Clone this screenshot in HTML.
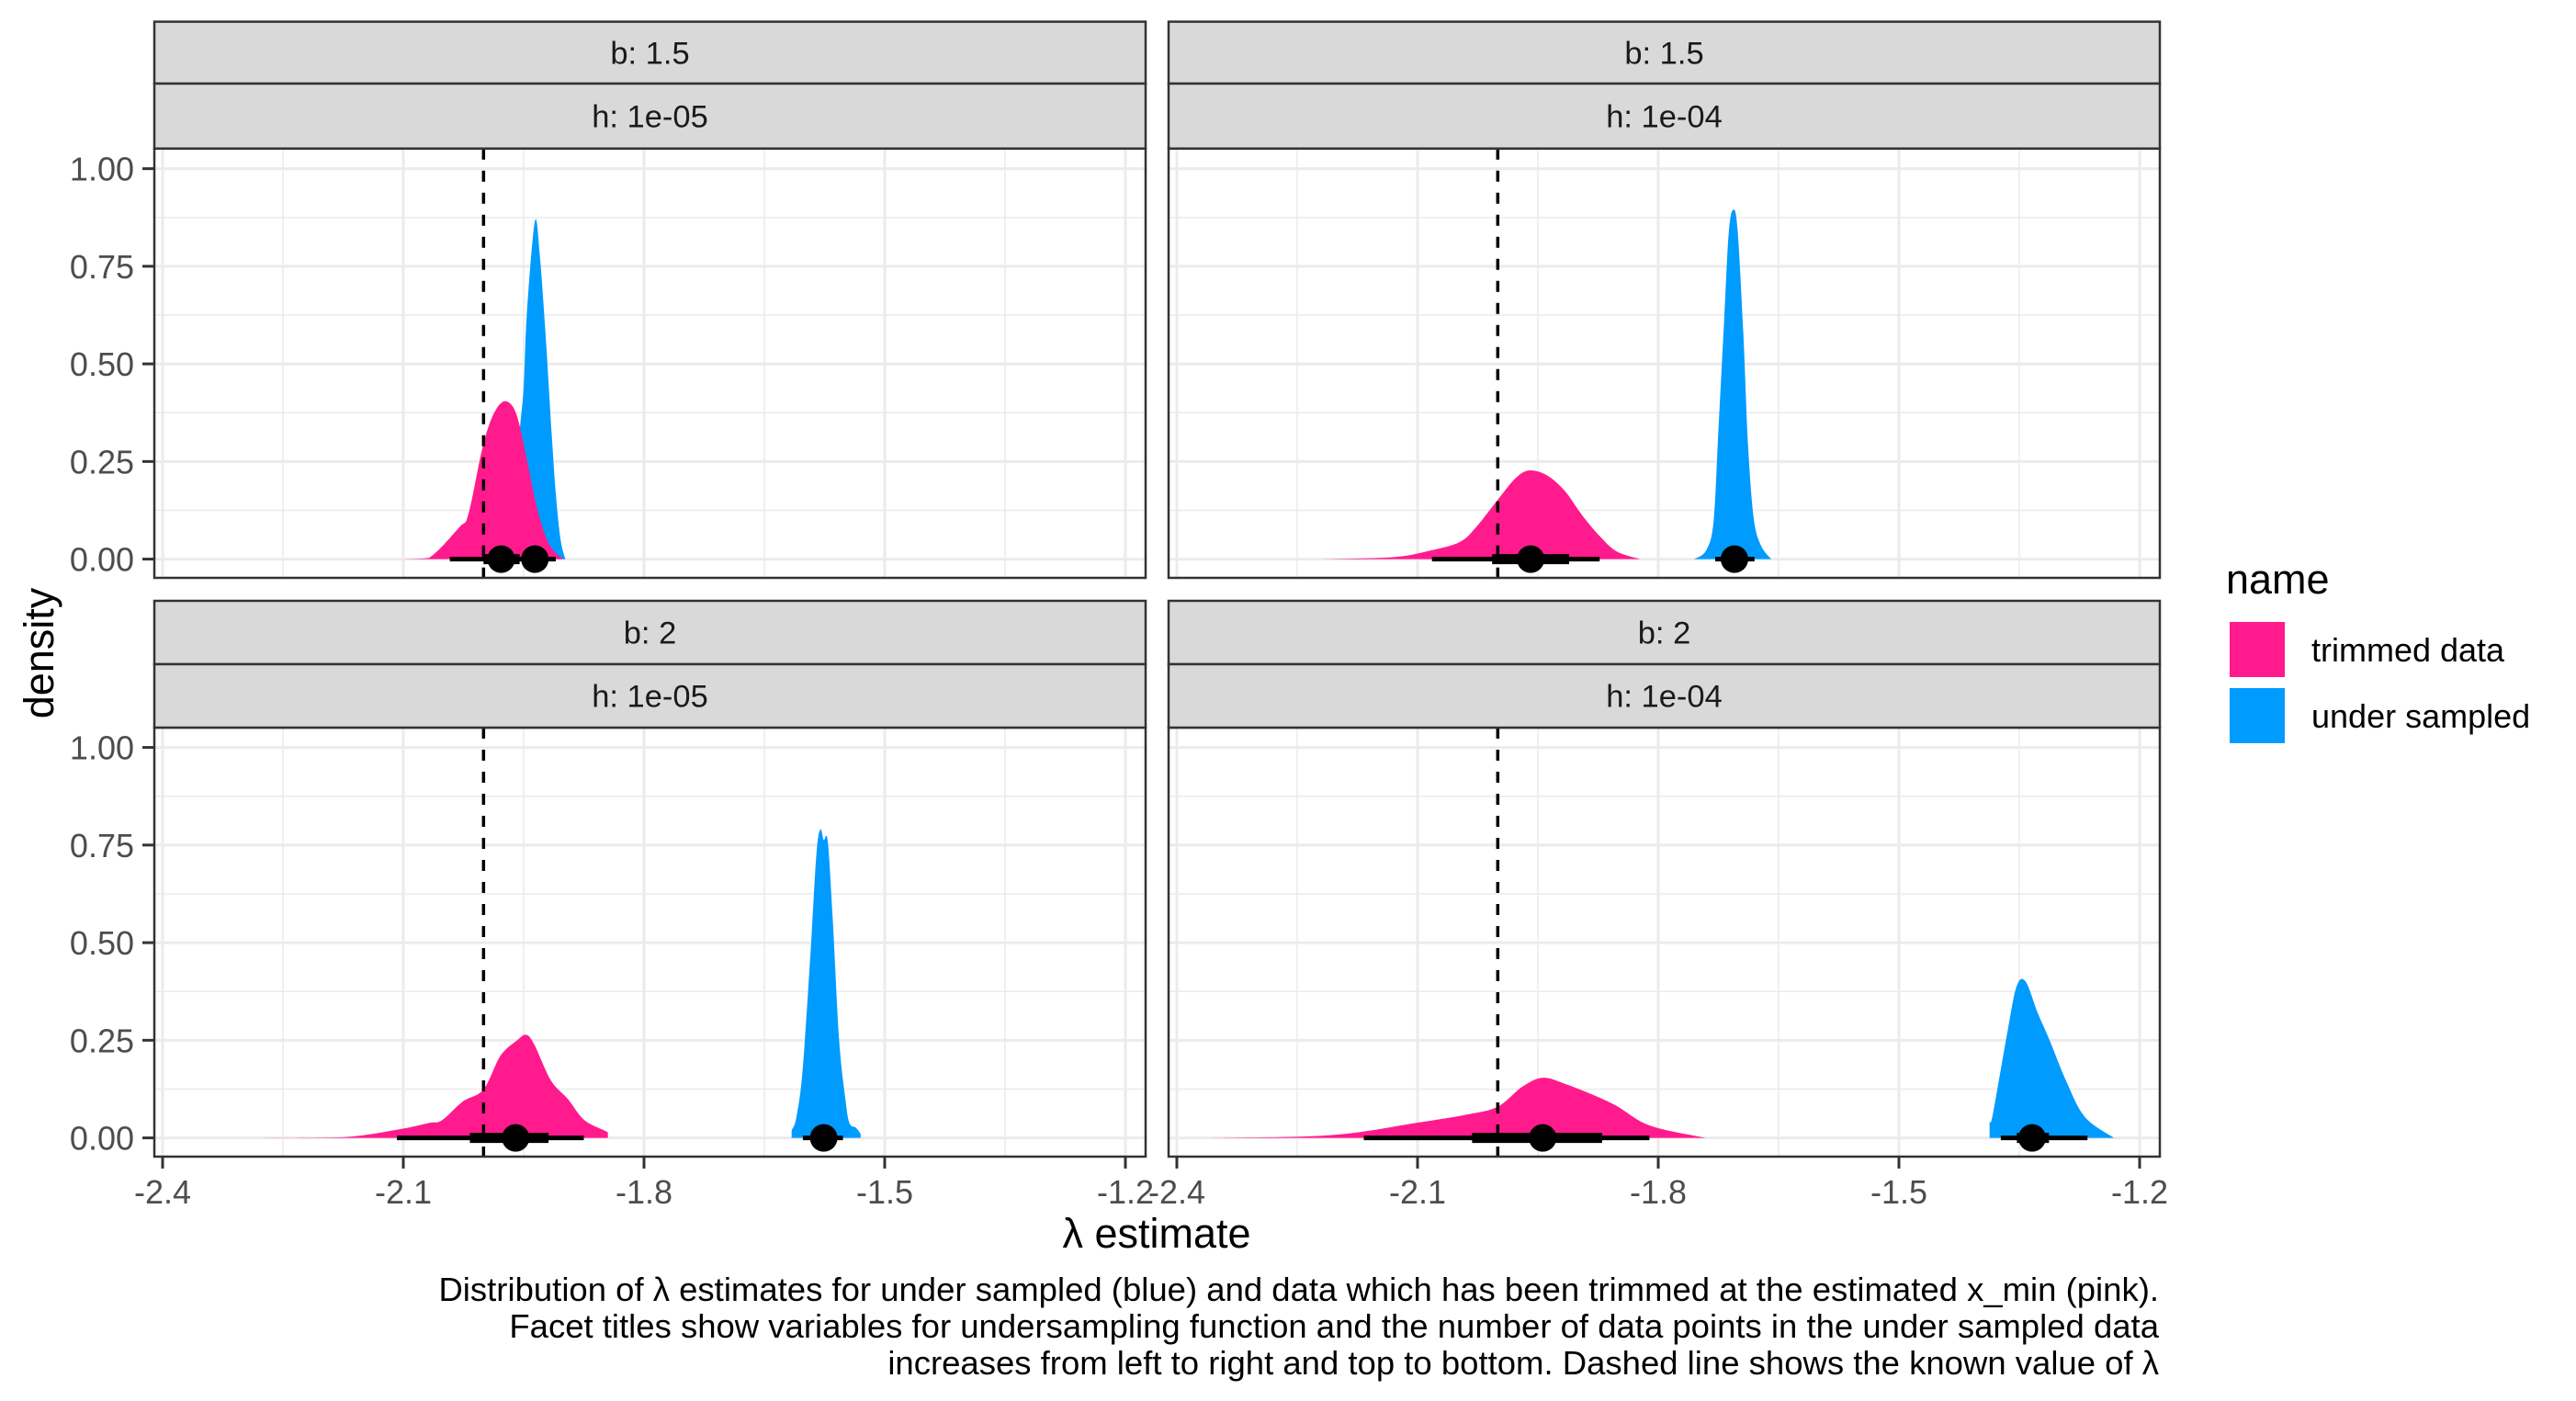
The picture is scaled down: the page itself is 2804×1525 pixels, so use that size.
<!DOCTYPE html>
<html><head><meta charset="utf-8"><style>
html,body{margin:0;padding:0;background:#fff;}
svg{display:block;font-family:"Liberation Sans",sans-serif;}
</style></head><body>
<svg id="chart" width="2804" height="1525" viewBox="0 0 2804 1525" xmlns="http://www.w3.org/2000/svg"></svg>
<script>
// ---------- data ----------
const panelB = ["1.5","1.5","2","2"];
const panelH = ["1e-05","1e-04","1e-05","1e-04"];
const trueLambda = -2.0;
const xTicks = [-2.4,-2.1,-1.8,-1.5,-1.2];
const xTickLabels = ["-2.4","-2.1","-1.8","-1.5","-1.2"];
const yTicks = [0,0.25,0.5,0.75,1.0];
const yTickLabels = ["0.00","0.25","0.50","0.75","1.00"];

// panel 1 (b 1.5, h 1e-05)
const p1PinkX = [-2.098,-2.068,-2.030,-2.019,-2.003,-1.992,-1.980,-1.969,-1.958,-1.946,-1.935,-1.923,-1.912,-1.900];
const p1PinkD = [0,0.003,0.082,0.114,0.27,0.35,0.396,0.402,0.365,0.255,0.145,0.06,0.02,0];
const p1BlueX = [-1.985,-1.970,-1.960,-1.954,-1.950,-1.946,-1.936,-1.930,-1.923,-1.915,-1.910,-1.904,-1.898];
const p1BlueD = [0,0.08,0.22,0.35,0.44,0.63,0.865,0.78,0.585,0.318,0.17,0.05,0];
// panel 2 (b 1.5, h 1e-04)
const p2PinkX = [-2.215,-2.131,-2.088,-2.048,-2.027,-2.000,-1.978,-1.961,-1.939,-1.917,-1.895,-1.873,-1.852,-1.823];
const p2PinkD = [0,0.005,0.02,0.043,0.082,0.152,0.207,0.227,0.215,0.176,0.113,0.059,0.02,0];
const p2BlueX = [-1.755,-1.740,-1.731,-1.725,-1.718,-1.712,-1.706,-1.701,-1.694,-1.688,-1.681,-1.672,-1.659];
const p2BlueD = [0,0.023,0.098,0.33,0.605,0.84,0.895,0.84,0.58,0.29,0.105,0.035,0];
// panel 3 (b 2, h 1e-05)
const p3PinkX = [-2.273,-2.173,-2.105,-2.068,-2.052,-2.026,-2.000,-1.979,-1.958,-1.947,-1.937,-1.916,-1.895,-1.874,-1.845,-1.845];
const p3PinkD = [0,0.002,0.022,0.038,0.045,0.093,0.124,0.21,0.25,0.264,0.24,0.147,0.1,0.045,0.014,0];
const p3BlueX = [-1.616,-1.616,-1.610,-1.602,-1.592,-1.585,-1.580,-1.576,-1.571,-1.565,-1.557,-1.549,-1.544,-1.536,-1.530,-1.530];
const p3BlueD = [0,0.018,0.053,0.18,0.49,0.73,0.79,0.763,0.76,0.57,0.257,0.1,0.038,0.026,0.01,0];
// panel 4 (b 2, h 1e-04)
const p4PinkX = [-2.355,-2.208,-2.100,-2.038,-2.000,-1.970,-1.944,-1.913,-1.857,-1.811,-1.741];
const p4PinkD = [0,0.007,0.039,0.06,0.08,0.13,0.154,0.136,0.0875,0.032,0];
const p4BlueX = [-1.387,-1.387,-1.383,-1.364,-1.353,-1.342,-1.327,-1.313,-1.291,-1.268,-1.232];
const p4BlueD = [0,0.04,0.06,0.28,0.39,0.4,0.32,0.254,0.143,0.053,0];

// point + intervals: [point, thinLo, thinHi, thickLo, thickHi]
const p1PinkInt = [-1.978,-2.042,-1.930,-2.000,-1.955];
const p1BlueInt = [-1.936,-1.962,-1.910,-1.950,-1.925];
const p2PinkInt = [-1.959,-2.082,-1.873,-2.007,-1.911];
const p2BlueInt = [-1.705,-1.729,-1.680,-1.718,-1.693];
const p3PinkInt = [-1.960,-2.108,-1.875,-2.017,-1.919];
const p3BlueInt = [-1.576,-1.602,-1.552,-1.590,-1.564];
const p4PinkInt = [-1.944,-2.167,-1.811,-2.032,-1.870];
const p4BlueInt = [-1.334,-1.373,-1.265,-1.353,-1.313];

const PINK = "#ff1b8d", BLUE = "#009bff";
const panelsPink = [[p1PinkX,p1PinkD],[p2PinkX,p2PinkD],[p3PinkX,p3PinkD],[p4PinkX,p4PinkD]];
const panelsBlue = [[p1BlueX,p1BlueD],[p2BlueX,p2BlueD],[p3BlueX,p3BlueD],[p4BlueX,p4BlueD]];
const panelsInt = [[p1PinkInt,p1BlueInt],[p2PinkInt,p2BlueInt],[p3PinkInt,p3BlueInt],[p4PinkInt,p4BlueInt]];

// ---------- layout ----------
const NS = "http://www.w3.org/2000/svg";
const svg = document.getElementById("chart");
function mk(tag, attrs, parent){ const e=document.createElementNS(NS,tag); for(const k in attrs) e.setAttribute(k,attrs[k]); (parent||svg).appendChild(e); return e; }

const colX = [168,1272], panelW = 1079;
const rows = [{s1:23.6,s2:91,top:161.7,bot:629},{s1:654,s2:723,top:792,bot:1259}];
const pxPerUnit = 262/0.3, dPerUnit = 425;

function smoothPath(pts, y0){
  let d="M"+pts[0][0].toFixed(1)+","+y0.toFixed(1)+" L"+pts[0][0].toFixed(1)+","+pts[0][1].toFixed(1);
  for(let i=0;i<pts.length-1;i++){
    const p0=pts[Math.max(i-1,0)], p1=pts[i], p2=pts[i+1], p3=pts[Math.min(i+2,pts.length-1)];
    let c1x=p1[0]+(p2[0]-p0[0])/6, c1y=p1[1]+(p2[1]-p0[1])/6;
    let c2x=p2[0]-(p3[0]-p1[0])/6, c2y=p2[1]-(p3[1]-p1[1])/6;
    c1y=Math.min(c1y,y0); c2y=Math.min(c2y,y0);
    c1x=Math.max(p1[0],Math.min(c1x,p2[0])); c2x=Math.max(p1[0],Math.min(c2x,p2[0]));
    d+=" C"+c1x.toFixed(1)+","+c1y.toFixed(1)+" "+c2x.toFixed(1)+","+c2y.toFixed(1)+" "+p2[0].toFixed(1)+","+p2[1].toFixed(1);
  }
  d+=" L"+pts[pts.length-1][0].toFixed(1)+","+y0.toFixed(1)+" Z";
  return d;
}

for(let p=0;p<4;p++){
  const c=p%2, r=Math.floor(p/2), L=colX[c], R=L+panelW, rw=rows[r];
  const xs = v => L+9+(v+2.4)*pxPerUnit;
  const y0 = rw.bot-20.4;
  const ys = d => y0 - d*dPerUnit;
  const g = mk("g",{});
  
  
  mk("rect",{x:L,y:rw.top,width:panelW,height:rw.bot-rw.top,fill:"#fff"},g);
  for(let i=0;i<xTicks.length-1;i++){ const x=xs((xTicks[i]+xTicks[i+1])/2); mk("line",{x1:x,x2:x,y1:rw.top,y2:rw.bot,stroke:"#ebebeb","stroke-width":1.5},g); }
  for(let i=0;i<yTicks.length-1;i++){ const y=ys((yTicks[i]+yTicks[i+1])/2); mk("line",{x1:L,x2:R,y1:y,y2:y,stroke:"#ebebeb","stroke-width":1.5},g); }
  xTicks.forEach(v=>{ const x=xs(v); mk("line",{x1:x,x2:x,y1:rw.top,y2:rw.bot,stroke:"#ebebeb","stroke-width":3},g); });
  yTicks.forEach(v=>{ const y=ys(v); mk("line",{x1:L,x2:R,y1:y,y2:y,stroke:"#ebebeb","stroke-width":3},g); });
  const drawArea=(arr,col,name)=>{
    const pts=arr[0].map((v,i)=>[xs(v),ys(arr[1][i])]);
    const e=mk("path",{d:smoothPath(pts,y0),fill:col},g);
    
    
  };
  drawArea(panelsBlue[p],BLUE,'under-sampled-density');
  drawArea(panelsPink[p],PINK,'trimmed-data-density');
  const dx=xs(trueLambda);
  const dl=mk("line",{x1:dx,x2:dx,y1:rw.top,y2:rw.bot,stroke:"#000","stroke-width":3.5,"stroke-dasharray":"12,12"},g);
  
  
  panelsInt[p].forEach((iv,k)=>{
    mk("line",{x1:xs(iv[1]),x2:xs(iv[2]),y1:y0,y2:y0,stroke:"#000","stroke-width":5},g);
    mk("line",{x1:xs(iv[3]),x2:xs(iv[4]),y1:y0,y2:y0,stroke:"#000","stroke-width":11},g);
    const pt=mk("circle",{cx:xs(iv[0]),cy:y0,r:15,fill:"#000"},g);
    
    
  });
  mk("rect",{x:L,y:rw.top,width:panelW,height:rw.bot-rw.top,fill:"none",stroke:"#333","stroke-width":2.5},g);
  [[rw.s1,rw.s2,"b: "+panelB[p]],[rw.s2,rw.top,"h: "+panelH[p]]].forEach((s,k)=>{
    const st=mk("rect",{x:L,y:s[0],width:panelW,height:s[1]-s[0],fill:"#d9d9d9",stroke:"#333","stroke-width":2.5},g);
    
    
    const t=mk("text",{x:L+panelW/2,y:(s[0]+s[1])/2+12,"text-anchor":"middle","font-size":34.5,fill:"#1a1a1a"},g);
    t.textContent=s[2];
  });
  if(c===0){
    yTicks.forEach((v,i)=>{ const y=ys(v);
      mk("line",{x1:L-13,x2:L,y1:y,y2:y,stroke:"#333","stroke-width":3},g);
      const t=mk("text",{x:L-22,y:y+13,"text-anchor":"end","font-size":36,fill:"#4d4d4d"},g);
      
      
      t.textContent=yTickLabels[i]; });
  }
  if(r===1){
    xTicks.forEach((v,i)=>{ const x=xs(v);
      mk("line",{x1:x,x2:x,y1:rw.bot,y2:rw.bot+13,stroke:"#333","stroke-width":3},g);
      const t=mk("text",{x:x,y:rw.bot+51,"text-anchor":"middle","font-size":36,fill:"#4d4d4d"},g);
      
      
      t.textContent=xTickLabels[i]; });
  }
}
</script>
<svg style="position:absolute;left:0;top:0" width="2804" height="1525">
  <text x="1259" y="1358" text-anchor="middle" font-size="45" font-family="Liberation Sans, sans-serif" fill="#000">λ estimate</text>
  <text transform="translate(58,711) rotate(-90)" text-anchor="middle" font-size="45" font-family="Liberation Sans, sans-serif" fill="#000">density</text>
  <g font-size="36.5" font-family="Liberation Sans, sans-serif" fill="#000" text-anchor="end">
    <text x="2350" y="1416">Distribution of λ estimates for under sampled (blue) and data which has been trimmed at the estimated x_min (pink).</text>
    <text x="2350" y="1456">Facet titles show variables for undersampling function and the number of data points in the under sampled data</text>
    <text x="2350" y="1496">increases from left to right and top to bottom. Dashed line shows the known value of λ</text>
  </g>
  <g font-family="Liberation Sans, sans-serif">
    <text x="2423" y="646" font-size="45" fill="#000">name</text>
    <rect x="2427" y="677" width="60" height="60" fill="#ff1b8d"/>
    <text x="2516" y="720" font-size="36" fill="#000">trimmed data</text>
    <rect x="2427" y="749" width="60" height="60" fill="#009bff"/>
    <text x="2516" y="792" font-size="36" fill="#000">under sampled</text>
  </g>
</svg>
</body></html>
